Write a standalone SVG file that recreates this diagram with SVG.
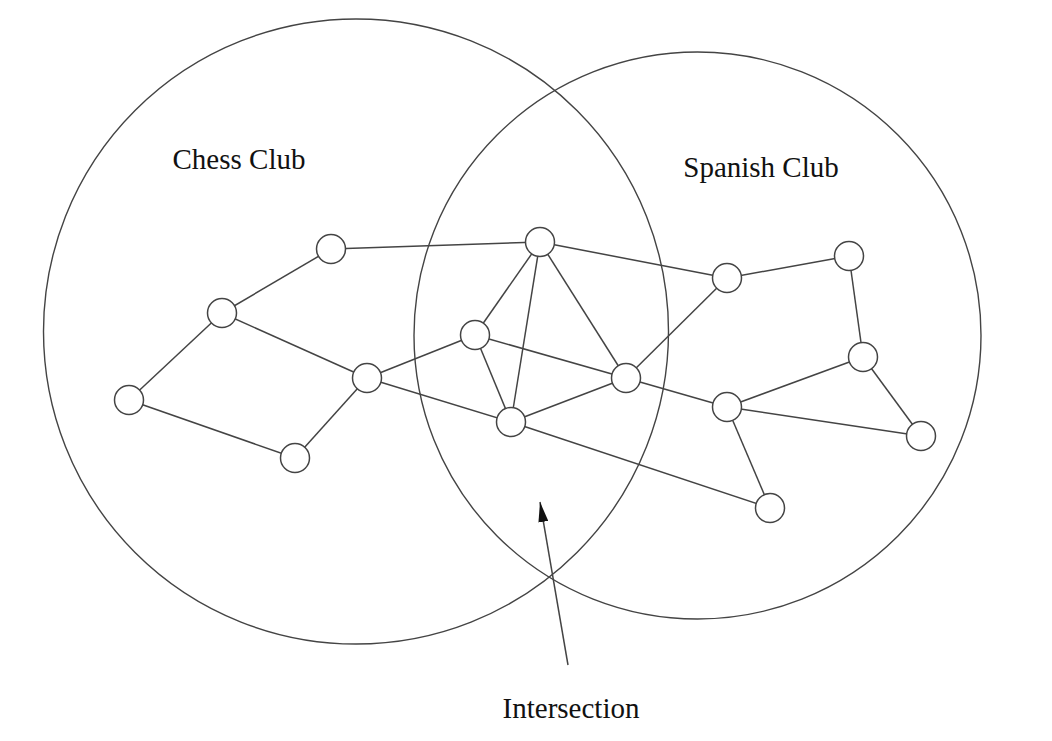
<svg xmlns="http://www.w3.org/2000/svg" width="1052" height="741" viewBox="0 0 1052 741">
<style>
.club{fill:none;stroke:#444;stroke-width:1.4}
.edge{stroke:#444;stroke-width:1.5;fill:none}
.node{fill:#fff;stroke:#444;stroke-width:1.5}
.lbl{font-family:"Liberation Serif","Times New Roman",serif;font-size:29px;fill:#111;text-anchor:middle}
</style>
<defs>
<marker id="ah" markerUnits="userSpaceOnUse" markerWidth="20" markerHeight="10" refX="20" refY="5" orient="auto">
<path d="M0,0 L20,5 L0,10 z" fill="#111"/>
</marker>
</defs>
<rect width="1052" height="741" fill="#fff"/>
<g id="clubs">
<ellipse id="chess-club" class="club" cx="356" cy="331.5" rx="312.5" ry="312.5"/>
<ellipse id="spanish-club" class="club" cx="697.5" cy="335.5" rx="283.5" ry="283.5"/>
</g>
<g id="connectors">
<line class="edge" x1="331" y1="249" x2="540" y2="242"/>
<line class="edge" x1="331" y1="249" x2="222" y2="313"/>
<line class="edge" x1="222" y1="313" x2="129" y2="400"/>
<line class="edge" x1="222" y1="313" x2="367" y2="378"/>
<line class="edge" x1="129" y1="400" x2="295" y2="458"/>
<line class="edge" x1="295" y1="458" x2="367" y2="378"/>
<line class="edge" x1="367" y1="378" x2="475" y2="335"/>
<line class="edge" x1="367" y1="378" x2="511" y2="422"/>
<line class="edge" x1="540" y1="242" x2="475" y2="335"/>
<line class="edge" x1="540" y1="242" x2="511" y2="422"/>
<line class="edge" x1="540" y1="242" x2="626" y2="378"/>
<line class="edge" x1="540" y1="242" x2="727" y2="278"/>
<line class="edge" x1="475" y1="335" x2="511" y2="422"/>
<line class="edge" x1="475" y1="335" x2="626" y2="378"/>
<line class="edge" x1="511" y1="422" x2="626" y2="378"/>
<line class="edge" x1="511" y1="422" x2="770" y2="508"/>
<line class="edge" x1="626" y1="378" x2="727" y2="278"/>
<line class="edge" x1="626" y1="378" x2="727" y2="407"/>
<line class="edge" x1="727" y1="278" x2="849" y2="256"/>
<line class="edge" x1="849" y1="256" x2="863" y2="357"/>
<line class="edge" x1="863" y1="357" x2="727" y2="407"/>
<line class="edge" x1="863" y1="357" x2="921" y2="436"/>
<line class="edge" x1="727" y1="407" x2="921" y2="436"/>
<line class="edge" x1="727" y1="407" x2="770" y2="508"/>
<line id="intersection-arrow" class="edge" x1="568" y1="665" x2="540" y2="502" marker-end="url(#ah)"/>
</g>
<g id="n1"><circle class="node" cx="331" cy="249" r="14.5"/></g>
<g id="n2"><circle class="node" cx="222" cy="313" r="14.5"/></g>
<g id="n3"><circle class="node" cx="129" cy="400" r="14.5"/></g>
<g id="n4"><circle class="node" cx="295" cy="458" r="14.5"/></g>
<g id="n5"><circle class="node" cx="367" cy="378" r="14.5"/></g>
<g id="n6"><circle class="node" cx="540" cy="242" r="14.5"/></g>
<g id="n7"><circle class="node" cx="475" cy="335" r="14.5"/></g>
<g id="n8"><circle class="node" cx="511" cy="422" r="14.5"/></g>
<g id="n9"><circle class="node" cx="626" cy="378" r="14.5"/></g>
<g id="n10"><circle class="node" cx="727" cy="278" r="14.5"/></g>
<g id="n11"><circle class="node" cx="849" cy="256" r="14.5"/></g>
<g id="n12"><circle class="node" cx="863" cy="357" r="14.5"/></g>
<g id="n13"><circle class="node" cx="727" cy="407" r="14.5"/></g>
<g id="n14"><circle class="node" cx="921" cy="436" r="14.5"/></g>
<g id="n15"><circle class="node" cx="770" cy="508" r="14.5"/></g>
<g id="labels">
<text class="lbl" x="239" y="169">Chess Club</text>
<text class="lbl" x="761" y="177">Spanish Club</text>
<text class="lbl" x="571" y="718">Intersection</text>
</g>
</svg>
